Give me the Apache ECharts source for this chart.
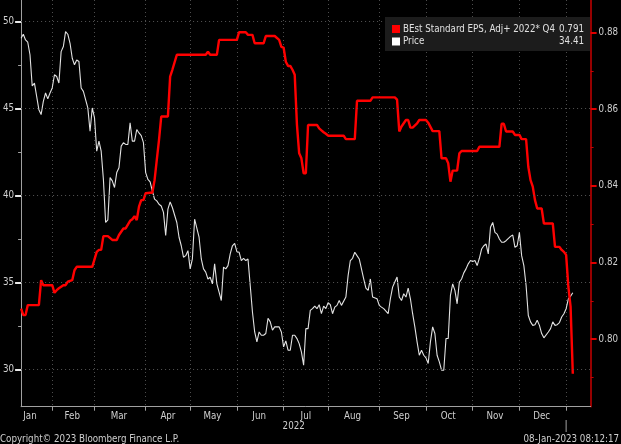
<!DOCTYPE html>
<html><head><meta charset="utf-8">
<script src="https://cdn.jsdelivr.net/npm/echarts@6/dist/echarts.min.js"></script>
<style>html,body{margin:0;padding:0;background:#000;}#c{width:621px;height:444px;}</style>
</head><body><div id="c"></div>
<script>
// ---------- data ----------
const holidays = ['2022-01-17','2022-02-21','2022-04-15','2022-05-30','2022-06-20','2022-07-04','2022-09-05','2022-11-24','2022-12-26','2023-01-02'];
const calendarStart = '2022-01-03', axisStart = '2022-01-11', lastDate = '2023-01-06';
const blankSlots = 8; // empty weekdays after the last observation
const monthNames = ['Jan','Feb','Mar','Apr','May','Jun','Jul','Aug','Sep','Oct','Nov','Dec'];
const yearLabel = '2022';

// trading-day offset from 2022-01-11
const priceDays = [0,1,2,3,4,5,6,7,8,9,10,11,12,13,14,15,16,17,18,19,20,21,22,23,24,25,26,27,28,29,30,31,32,33,34,35,36,37,38,39,40,41,42,43,44,45,46,47,48,49,50,51,52,53,54,55,56,57,58,59,60,61,62,63,64,65,66,67,68,70,71,72,73,74,75,76,77,78,80,81,82,83,84,85,86,87,88,89,90,91,92,93,94,95,96,97,98,99,100,101,102,103,104,105,106,107,108,109,110,111,112,113,114,115,116,117,118,119,120,121,122,123,124,125,126,127,128,129,130,131,132,133,134,135,136,137,138,139,140,141,142,143,144,146,147,148,149,150,151,152,154,155,156,157,158,160,161,162,163,165,166,167,168,169,170,171,172,173,174,175,176,177,178,179,180,181,182,183,184,185,186,187,188,189,190,191,192,193,194,195,196,197,198,199,200,201,202,203,204,205,206,207,208,209,210,211,212,213,214,215,216,217,218,220,221,222,223,224,225,226,227,228,229,230,231,232,233,234,235,237,238,239,240,241,242,243,244,245,246,247,248];
const priceValues = [49.05,49.28,48.95,48.82,48.10,46.30,46.47,45.70,44.94,44.66,45.42,45.90,45.56,45.90,46.19,46.95,46.85,46.47,48.28,48.57,49.43,49.28,48.76,47.90,47.52,47.80,47.71,46.19,45.99,45.52,45.04,43.70,45.04,44.47,42.55,43.13,42.55,40.93,38.45,38.60,41.03,40.84,40.46,41.32,41.60,42.84,43.04,42.94,42.94,44.18,43.13,43.13,43.80,43.60,43.45,43.04,41.32,40.93,40.78,40.26,39.79,39.69,39.50,39.40,39.03,37.70,39.22,39.63,39.31,38.45,37.60,37.11,36.45,36.54,36.83,35.78,36.35,38.64,37.60,36.35,35.78,35.59,35.20,35.30,34.92,36.07,34.92,34.44,33.96,35.88,35.78,35.97,36.64,37.11,37.25,36.77,36.74,36.26,36.39,36.26,36.35,34.82,33.30,32.15,31.58,32.15,31.96,31.96,32.06,32.94,32.73,32.25,32.44,32.44,32.44,32.15,31.29,31.64,31.10,31.10,31.96,31.96,31.77,31.48,31.00,30.24,32.34,32.34,33.39,33.49,33.64,33.49,33.72,33.20,33.64,33.49,33.83,33.72,33.20,33.58,33.68,33.96,33.68,34.16,35.39,36.26,36.39,36.74,36.54,36.35,35.20,34.67,34.54,35.20,34.16,34.06,33.68,33.58,33.49,33.20,34.06,34.73,35.02,35.31,34.16,33.96,34.35,34.16,34.67,34.06,33.20,32.44,31.58,30.81,31.10,30.81,30.66,30.34,31.58,32.44,32.06,30.81,30.43,29.95,29.95,31.77,31.77,34.25,34.92,34.54,33.77,35.02,35.20,35.55,35.78,36.07,36.26,36.20,36.26,35.97,36.39,36.92,37.11,37.21,36.64,38.17,38.45,37.88,37.78,37.50,37.31,37.31,37.40,37.65,37.73,37.02,37.11,37.88,36.54,35.97,34.82,33.10,32.73,32.53,32.57,32.82,32.53,32.06,31.81,32.15,32.34,32.73,32.53,32.57,32.69,33.01,33.20,33.49,34.06,34.21,34.41];

const epsDays = [0,1,2,3,8,9,10,14,15,16,17,19,20,21,23,24,25,32,34,35,36,37,39,41,43,44,46,47,49,50,51,52,53,54,55,56,58,59,60,61,62,63,66,67,68,70,83,84,85,88,89,97,98,101,102,104,105,109,110,114,116,117,118,119,120,121,122,123,124,125,126,127,128,129,133,134,135,136,137,138,145,146,150,151,157,158,168,169,170,171,173,174,175,176,178,179,182,183,185,188,189,191,192,193,194,196,197,198,205,206,215,216,217,218,221,222,224,225,227,228,229,230,231,232,234,235,239,240,242,243,244,245,246,247,248];
const epsValues = [0.8080,0.8063,0.8063,0.8089,0.8089,0.8154,0.8141,0.8141,0.8121,0.8128,0.8133,0.8141,0.8141,0.8150,0.8154,0.8180,0.8189,0.8189,0.8228,0.8233,0.8233,0.8269,0.8269,0.8259,0.8259,0.8272,0.8289,0.8289,0.8309,0.8313,0.8321,0.8311,0.8346,0.8363,0.8363,0.8381,0.8382,0.8382,0.8415,0.8468,0.8520,0.8581,0.8581,0.8685,0.8703,0.8742,0.8742,0.8750,0.8742,0.8742,0.8781,0.8781,0.8801,0.8801,0.8794,0.8794,0.8772,0.8772,0.8791,0.8791,0.8781,0.8763,0.8761,0.8724,0.8713,0.8713,0.8703,0.8690,0.8560,0.8485,0.8472,0.8433,0.8433,0.8559,0.8559,0.8550,0.8545,0.8540,0.8536,0.8531,0.8531,0.8522,0.8522,0.8622,0.8622,0.8631,0.8631,0.8625,0.8542,0.8555,0.8572,0.8572,0.8552,0.8552,0.8563,0.8572,0.8572,0.8565,0.8543,0.8543,0.8472,0.8472,0.8459,0.8411,0.8440,0.8440,0.8485,0.8491,0.8491,0.8502,0.8502,0.8562,0.8562,0.8542,0.8542,0.8533,0.8533,0.8522,0.8522,0.8450,0.8415,0.8398,0.8363,0.8341,0.8341,0.8302,0.8302,0.8241,0.8241,0.8233,0.8228,0.8220,0.8137,0.8085,0.7910];

const priceTicks = [30,35,40,45,50];
const priceMinorTicks = [32.5,37.5,42.5,47.5];
const epsTicks = [0.80,0.82,0.84,0.86,0.88];
const epsMinorTicks = [0.79,0.81,0.83,0.85,0.87];
const epsName = 'BEst Standard EPS, Adj+ 2022* Q4';
const priceName = 'Price';
const copyrightText = 'Copyright\u00a9 2023 Bloomberg Finance L.P.';
const stampText = '08-Jan-2023 08:12:17';

// ---------- calendar ----------
function iso(d){return d.toISOString().slice(0,10);}
function weekdays(from, n, to){
  const out=[]; const d=new Date(from+'T00:00:00Z');
  while(true){
    const w=d.getUTCDay(); const s=iso(d);
    if(to && s>to) break;
    if(w!==0 && w!==6 && (n!==undefined || holidays.indexOf(s)<0)) out.push(s);
    if(n!==undefined && out.length>=n) break;
    d.setUTCDate(d.getUTCDate()+1);
  }
  return out;
}
const fullDays = weekdays(calendarStart, undefined, lastDate);
const offset = fullDays.indexOf(axisStart);
const nextDay = new Date(lastDate+'T00:00:00Z'); nextDay.setUTCDate(nextDay.getUTCDate()+1);
const categories = fullDays.slice(offset).concat(weekdays(iso(nextDay), blankSlots));
const monthStart = new Set();
for(let i=1;i<categories.length;i++){ if(categories[i].slice(0,7)!==categories[i-1].slice(0,7)) monthStart.add(i); }
const labelIdx = {};
for(let m=0;m<12;m++){
  const key='2022-'+String(m+1).padStart(2,'0');
  const s=fullDays.findIndex(d=>d.slice(0,7)===key);
  let e=fullDays.findIndex(d=>d.slice(0,7)>key); if(e<0) e=fullDays.length;
  labelIdx[Math.floor((s+e)/2)-offset]=monthNames[m];
}

const FONT = "'Liberation Sans Narrow','DejaVu Sans Condensed','Roboto Condensed','DejaVu Sans',sans-serif";
const FS = 9.7;
const TXT = '#cfcfcf';
const chart = echarts.init(document.getElementById('c'), null, {renderer:'canvas'});
const priceMin=27.85, priceMax=51.25, epsMin=0.7824, epsMax=0.8885;

chart.setOption({
  backgroundColor:'#000',
  animation:false,
  grid:{left:17.5,right:27.5,top:0,bottom:37.3,containLabel:false},
  xAxis:{type:'category',data:categories,boundaryGap:false,
    axisLine:{lineStyle:{color:'#a0a0a0',width:1}},
    axisTick:{interval:(i)=>monthStart.has(i),length:4,lineStyle:{color:'#a0a0a0'}},
    axisLabel:{interval:(i)=>labelIdx[i]!==undefined,formatter:(v,i)=>labelIdx[i]||'',color:TXT,fontFamily:FONT,fontSize:FS,margin:5},
    splitLine:{show:true,interval:(i)=>monthStart.has(i),lineStyle:{color:'#4d4d4d',type:[1,3],width:1}}
  },
  yAxis:[
    {type:'value',position:'left',min:priceMin,max:priceMax,
      axisLine:{show:true,lineStyle:{color:'#a0a0a0'}},
      axisTick:{show:true,customValues:priceTicks,length:6,lineStyle:{color:'#e8e8e8',width:2}},
      axisLabel:{customValues:priceTicks,color:TXT,fontFamily:FONT,fontSize:FS,margin:7},
      splitLine:{show:false}},
    {type:'value',position:'right',min:epsMin,max:epsMax,
      axisLine:{show:true,lineStyle:{color:'#c80000',width:1.5}},
      axisTick:{show:true,customValues:epsTicks,length:6,lineStyle:{color:'#e00000',width:2}},
      axisLabel:{customValues:epsTicks,color:TXT,fontFamily:FONT,fontSize:FS,margin:8,formatter:v=>v.toFixed(2)},
      splitLine:{show:false}},
    {type:'value',position:'left',min:priceMin,max:priceMax,
      axisLine:{show:false},axisLabel:{show:false},splitLine:{show:false},
      axisTick:{show:true,customValues:priceMinorTicks,length:3,lineStyle:{color:'#a0a0a0',width:1}}},
    {type:'value',position:'right',min:epsMin,max:epsMax,
      axisLine:{show:false},axisLabel:{show:false},splitLine:{show:false},
      axisTick:{show:true,customValues:epsMinorTicks,length:3,lineStyle:{color:'#c80000',width:1}}}
  ],
  series:[
    {name:priceName,type:'line',yAxisIndex:0,data:priceDays.map((d,i)=>[d,priceValues[i]]),
      showSymbol:false,symbol:'none',lineStyle:{color:'#e2e2e2',width:1.1},z:3,
      markLine:{silent:true,symbol:'none',label:{show:false},lineStyle:{color:'#555',type:[1,3],width:1},
        data:priceTicks.map(v=>({yAxis:v}))}},
    {name:epsName,type:'line',yAxisIndex:1,data:epsDays.map((d,i)=>[d,epsValues[i]]),
      showSymbol:false,symbol:'none',lineStyle:{color:'#ff0000',width:2.4},z:4}
  ]
});

const xJan = chart.convertToPixel({xAxisIndex:0}, [...monthStart][monthStart.size-1]);
const julIdx = [...monthStart].find(i=>categories[i].slice(0,7)==='2022-07');
const xJul = chart.convertToPixel({xAxisIndex:0}, julIdx);
const F = FS+'px '+FONT;
chart.setOption({graphic:[
  {type:'rect',shape:{x:385,y:17,width:205,height:34},style:{fill:'#1c1c1c'},z:10},
  {type:'rect',shape:{x:392,y:25,width:8,height:8},style:{fill:'#ff0000'},z:11},
  {type:'rect',shape:{x:392,y:37.5,width:8,height:8},style:{fill:'#ffffff'},z:11},
  {type:'text',x:403,y:29,style:{text:epsName,fill:'#e0e0e0',font:F,textVerticalAlign:'middle'},z:11},
  {type:'text',x:584,y:29,style:{text:epsValues[epsValues.length-1].toFixed(3),fill:'#e0e0e0',font:F,textAlign:'right',textVerticalAlign:'middle'},z:11},
  {type:'text',x:403,y:41.5,style:{text:priceName,fill:'#e0e0e0',font:F,textVerticalAlign:'middle'},z:11},
  {type:'text',x:584,y:41.5,style:{text:priceValues[priceValues.length-1].toFixed(2),fill:'#e0e0e0',font:F,textAlign:'right',textVerticalAlign:'middle'},z:11},
  {type:'line',shape:{x1:xJan,y1:420,x2:xJan,y2:432},style:{stroke:'#a0a0a0',lineWidth:1},z:5},
  {type:'text',x:xJul-1,y:426,style:{text:yearLabel,fill:TXT,font:F,textVerticalAlign:'middle'},z:5},
  {type:'text',x:0,y:439,style:{text:copyrightText,fill:TXT,font:F,textVerticalAlign:'middle'},z:5},
  {type:'text',x:619,y:439,style:{text:stampText,fill:TXT,font:F,textAlign:'right',textVerticalAlign:'middle'},z:5}
]});
</script></body></html>
